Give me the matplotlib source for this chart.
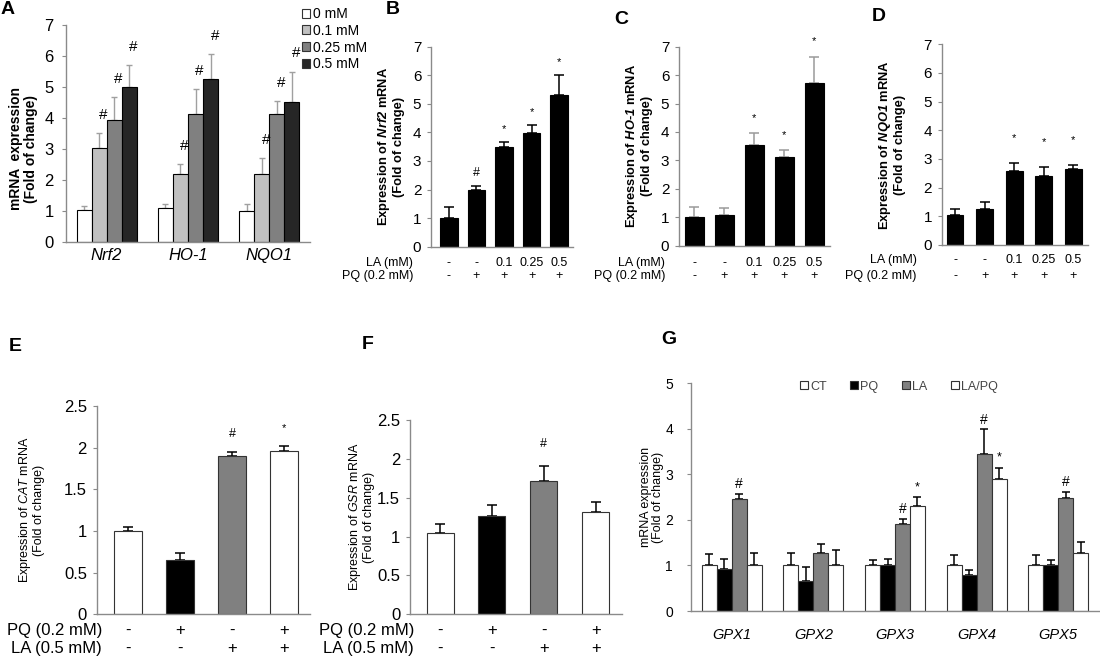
import numpy as np
import matplotlib
matplotlib.use('Agg')
import matplotlib.pyplot as plt
from matplotlib.patches import Patch
from matplotlib.ticker import FuncFormatter

plt.rcParams['font.family'] = ['Liberation Sans', 'DejaVu Sans']
plt.rcParams['mathtext.fontset'] = 'custom'
plt.rcParams['mathtext.rm'] = 'Liberation Sans'
plt.rcParams['mathtext.it'] = 'Liberation Sans:italic'
plt.rcParams['mathtext.bf'] = 'Liberation Sans:italic:bold'

# ---- panel A: dose response, three genes
genes_a = ['Nrf2', 'HO-1', 'NQO1']
doses_a = ['0 mM', '0.1 mM', '0.25 mM', '0.5 mM']
a_0 = [1.02, 1.10, 1.00]
a_0_err = [0.13, 0.13, 0.23]
a_01 = [3.02, 2.20, 2.20]
a_01_err = [0.50, 0.32, 0.52]
a_025 = [3.95, 4.12, 4.12]
a_025_err = [0.72, 0.83, 0.43]
a_05 = [5.00, 5.25, 4.52]
a_05_err = [0.70, 0.80, 0.98]
a_marks = [['', '', ''], ['#', '#', '#'], ['#', '#', '#'], ['#', '#', '#']]

# ---- panels B-D
la_bcd = ['-', '-', '0.1', '0.25', '0.5']
pq_bcd = ['-', '+', '+', '+', '+']
nrf2 = [0.99, 1.98, 3.48, 3.99, 5.30]
nrf2_err = [0.39, 0.16, 0.20, 0.27, 0.72]
nrf2_marks = ['', '#', '*', '*', '*']
ho1 = [1.02, 1.08, 3.56, 3.11, 5.74]
ho1_err = [0.35, 0.23, 0.39, 0.25, 0.91]
ho1_marks = ['', '', '*', '*', '*']
nqo1 = [1.05, 1.26, 2.59, 2.42, 2.64]
nqo1_err = [0.19, 0.25, 0.26, 0.31, 0.15]
nqo1_marks = ['', '', '*', '*', '*']

# ---- panels E-F
pq_ef = ['-', '+', '-', '+']
la_ef = ['-', '-', '+', '+']
cat = [1.00, 0.65, 1.90, 1.96]
cat_err = [0.05, 0.09, 0.05, 0.06]
cat_marks = ['', '', '#', '*']
gsr = [1.04, 1.26, 1.72, 1.31]
gsr_err = [0.12, 0.15, 0.19, 0.13]
gsr_marks = ['', '', '#', '']

# ---- panel G
gpx_genes = ['GPX1', 'GPX2', 'GPX3', 'GPX4', 'GPX5']
groups_g = ['CT', 'PQ', 'LA', 'LA/PQ']
g_ct = [1.02, 1.02, 1.00, 1.00, 1.00]
g_ct_err = [0.23, 0.25, 0.12, 0.22, 0.23]
g_pq = [0.915, 0.67, 1.00, 0.80, 1.00]
g_pq_err = [0.22, 0.30, 0.15, 0.11, 0.11]
g_la = [2.45, 1.27, 1.91, 3.44, 2.49]
g_la_err = [0.13, 0.20, 0.11, 0.55, 0.12]
g_lapq = [1.00, 1.00, 2.31, 2.91, 1.27]
g_lapq_err = [0.27, 0.34, 0.20, 0.24, 0.25]
g_marks = [['', '', '', '', ''], ['', '', '', '', ''],
           ['#', '', '#', '#', '#'], ['', '', '*', '*', '']]

AX_GRAY = '#8a8a8a'
fmt = FuncFormatter(lambda v, p: '%g' % v)


def style(ax, ymax, step, fs, pad):
    ax.set_ylim(0, ymax)
    ax.set_yticks(np.arange(0, ymax + step / 2, step))
    ax.yaxis.set_major_formatter(fmt)
    for s in ['top', 'right']:
        ax.spines[s].set_visible(False)
    for s in ['left', 'bottom']:
        ax.spines[s].set_color(AX_GRAY)
        ax.spines[s].set_linewidth(1)
    ax.tick_params(axis='y', colors=AX_GRAY, labelcolor='black', length=3,
                   labelsize=fs, pad=pad)
    ax.tick_params(axis='x', length=0)


def bars(ax, x, vals, errs, w, fc, ec, errc, cap, lw=1.0):
    ax.bar(x, vals, w, color=fc, edgecolor=ec, linewidth=0.8, zorder=2)
    ax.errorbar(x, vals, yerr=[np.zeros(len(vals)), errs], fmt='none',
                ecolor=errc, elinewidth=lw, capsize=cap, capthick=lw, zorder=1)


def marks(ax, x, vals, errs, labels, pad, fs, dx=0):
    for xi, v, e, s in zip(x, vals, errs, labels):
        if s:
            ax.annotate(s, (xi, v + e), xytext=(dx, pad), textcoords='offset points',
                        ha='center', va='center', fontsize=fs if s == '#' else fs - 1,
                        annotation_clip=False)


def rows(ax, names, values, xlab, offs, fs):
    for name, vals, off in zip(names, values, offs):
        ax.annotate(name, (xlab, 0), xycoords=('data', 'axes fraction'),
                    xytext=(0, -off), textcoords='offset points',
                    ha='right', va='center', fontsize=fs, annotation_clip=False)
        for i, v in enumerate(vals):
            ax.annotate(v, (i, 0), xycoords=('data', 'axes fraction'),
                        xytext=(0, -off), textcoords='offset points',
                        ha='center', va='center', fontsize=fs, annotation_clip=False)


fig = plt.figure(figsize=(11, 6.58), dpi=100)

# ---------------- A
axA = fig.add_axes([0.060, 0.6322, 0.2218, 0.3298])
style(axA, 7, 1, 12, 6)
xa = np.arange(len(genes_a))
wa = 0.185
cols_a = ['white', '#c0c0c0', '#808080', '#262626']
a_vals = [a_0, a_01, a_025, a_05]
a_errs = [a_0_err, a_01_err, a_025_err, a_05_err]
for k in range(4):
    xk = xa + (k - 1.5) * wa
    bars(axA, xk, a_vals[k], a_errs[k], wa, cols_a[k], 'black', '#a0a0a0', 2.5)
    marks(axA, xk, a_vals[k], a_errs[k], a_marks[k], 13, 11, dx=3)
axA.set_xlim(-0.5, 2.5)
axA.set_xticks(xa)
axA.set_xticklabels(genes_a, fontstyle='italic', fontsize=12)
axA.tick_params(axis='x', pad=4)
axA.set_ylabel('mRNA  expression\n(Fold of change)', fontsize=10,
               fontweight='bold', linespacing=1.05)
axA.yaxis.set_label_coords(-0.115, 0.43)
fig.legend([Patch(facecolor=c, edgecolor='#333333', linewidth=0.8) for c in cols_a],
           doses_a, loc='upper left', bbox_to_anchor=(302 / 1100, 1 - 7 / 658),
           frameon=False, fontsize=10, handlelength=0.6, handleheight=0.6,
           handletextpad=0.2, labelspacing=0.2, borderpad=0, borderaxespad=0)

# ---------------- B, C, D
bcd = [
    ([0.3918, 0.6251, 0.1291, 0.3040], nrf2, nrf2_err, nrf2_marks,
     r'Expression of $\mathbf{Nrf2}$ mRNA', 0.64, (-0.65, 4.5), 'black', 9,
     -1.3, (-0.185, 0.5), (11.7, 21.1)),
    ([0.6173, 0.6266, 0.1368, 0.3024], ho1, ho1_err, ho1_marks,
     r'Expression of $\mathbf{HO}$-$\mathbf{1}$ mRNA', 0.63, (-0.5, 4.5), '#9a9a9a', 11,
     -0.97, (-0.175, 0.5), (12.6, 21.8)),
    ([0.8561, 0.6277, 0.1330, 0.3050], nqo1, nqo1_err, nqo1_marks,
     r'Expression of $\mathbf{NQO1}$ mRNA', 0.57, (-0.45, 4.5), 'black', 18,
     -1.3, (-0.245, 0.5), (10.8, 22.3)),
]
for pos, v, e, m, lab, w, xl, ec, pad, xlab, lc, offs in bcd:
    ax = fig.add_axes(pos)
    style(ax, 7, 1, 11, 4)
    x = np.arange(len(v))
    bars(ax, x, v, e, w, 'black', 'black', ec, 3.5, lw=1.1)
    marks(ax, x, v, e, m, pad, 9)
    ax.set_xlim(*xl)
    ax.set_xticks([])
    ax.set_ylabel(lab + '\n(Fold of change)', fontsize=9.3, fontweight='bold',
                  linespacing=1.05)
    ax.yaxis.set_label_coords(*lc)
    rows(ax, ['LA (mM)', 'PQ (0.2 mM)'], [la_bcd, pq_bcd], xlab, offs, 9)

# ---------------- E, F
cols_ef = ['white', 'black', '#808080', 'white']
ef = [
    ([0.0879, 0.0664, 0.1940, 0.3166], cat, cat_err, cat_marks,
     r'Expression of $\mathit{CAT}$ mRNA', 0.54, (-0.6, 3.5), 13, (-0.24, 0.5)),
    ([0.3727, 0.0664, 0.1925, 0.2953], gsr, gsr_err, gsr_marks,
     r'Expression of $\mathit{GSR}$ mRNA', 0.52, (-0.58, 3.5), 16, (-0.165, 0.5)),
]
for pos, v, e, m, lab, w, xl, pad, lc in ef:
    ax = fig.add_axes(pos)
    style(ax, 2.5, 0.5, 12, 4)
    x = np.arange(len(v))
    bars(ax, x, v, e, w, cols_ef, '#333333', 'black', 3.5, lw=1.1)
    marks(ax, x, v, e, m, pad, 9)
    ax.set_xlim(*xl)
    ax.set_xticks([])
    ax.set_ylabel(lab + '\n(Fold of change)', fontsize=9, linespacing=1.05)
    ax.yaxis.set_label_coords(*lc)
    rows(ax, ['PQ (0.2 mM)', 'LA (0.5 mM)'], [pq_ef, la_ef], -0.5, (11.3, 24.3), 12)

# ---------------- G
axG = fig.add_axes([0.6282, 0.0714, 0.3709, 0.3460])
style(axG, 5, 1, 10, 10)
xg = np.arange(len(gpx_genes))
wg = 0.1836
cols_g = ['white', 'black', '#808080', 'white']
g_vals = [g_ct, g_pq, g_la, g_lapq]
g_errs = [g_ct_err, g_pq_err, g_la_err, g_lapq_err]
for k in range(4):
    xk = xg + (k - 1.5) * wg
    bars(axG, xk, g_vals[k], g_errs[k], wg, cols_g[k], '#333333', 'black', 3, lw=1.1)
    marks(axG, xk, g_vals[k], g_errs[k], g_marks[k], 7, 10)
axG.set_xlim(-0.5, 4.5)
axG.set_xticks(xg)
axG.set_xticklabels(gpx_genes, fontstyle='italic', fontsize=10.5)
axG.tick_params(axis='x', pad=12)
axG.set_ylabel('mRNA expression\n(Fold of change)', fontsize=9, linespacing=1.05)
axG.yaxis.set_label_coords(-0.066, 0.5)
axG.legend([Patch(facecolor=c, edgecolor='#333333', linewidth=0.8) for c in cols_g],
           groups_g, loc='center', bbox_to_anchor=(0.51, 0.985), ncol=4,
           frameon=False, fontsize=9, handlelength=0.6, handleheight=0.6,
           handletextpad=0.2, columnspacing=1.9, labelcolor='#444444',
           borderpad=0)

# panel letters
for letter, px, py in [('A', 1, 1), ('B', 386, 1), ('C', 614, 11), ('D', 872, 8),
                       ('E', 9, 338), ('F', 362, 336), ('G', 661, 331)]:
    fig.text(px / 1100, 1 - py / 658, letter, fontsize=14, fontweight='bold',
             ha='left', va='top')

fig.savefig('out.png', dpi=100)
